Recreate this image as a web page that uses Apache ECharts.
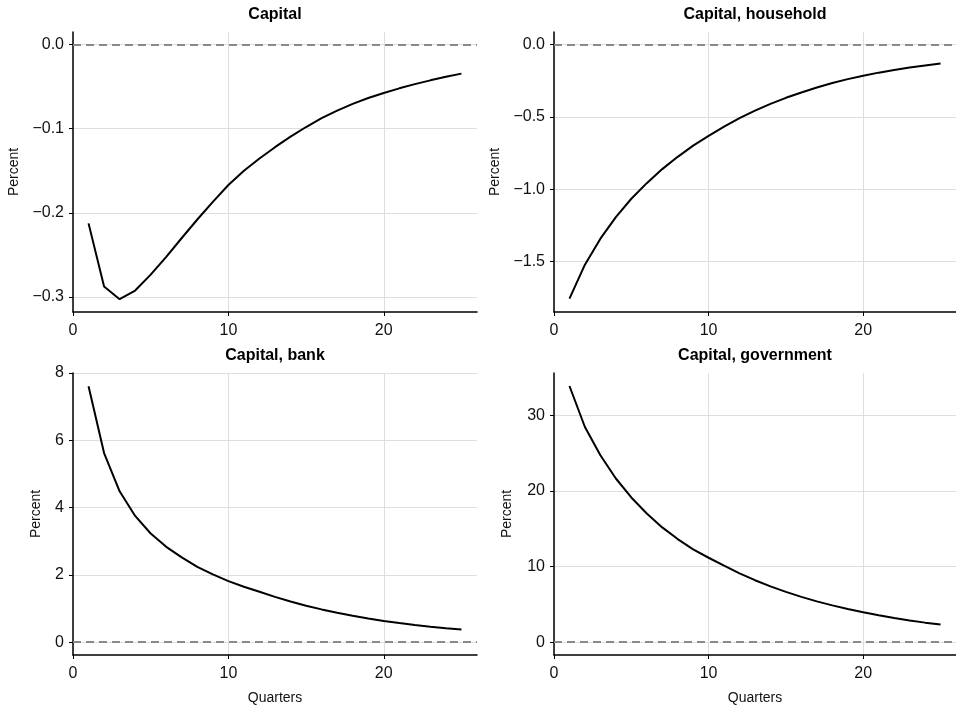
<!DOCTYPE html>
<html>
<head>
<meta charset="utf-8">
<script src="https://cdn.jsdelivr.net/npm/echarts@6/dist/echarts.min.js"></script>
<style>
  html, body { margin: 0; padding: 0; background: #fff; }
  #chart { width: 956px; height: 711px; }
</style>
</head>
<body>
<div id="chart"></div>
<script>
// Impulse responses, quarters 1..25 (percent deviation)
const quarters = [1, 2, 3, 4, 5, 6, 7, 8, 9, 10, 11, 12, 13, 14, 15, 16, 17, 18, 19, 20, 21, 22, 23, 24, 25];

const capital = [-0.2126, -0.2877, -0.3028, -0.2925, -0.2735, -0.2525, -0.230, -0.208, -0.187, -0.167,
  -0.150, -0.1355, -0.122, -0.1095, -0.098, -0.0875, -0.0785, -0.0705, -0.0635, -0.0575,
  -0.052, -0.047, -0.0425, -0.0383, -0.0345];

const capitalHousehold = [-1.755, -1.521, -1.341, -1.192, -1.065, -0.957, -0.860, -0.775, -0.698, -0.630,
  -0.566, -0.508, -0.456, -0.409, -0.367, -0.330, -0.296, -0.265, -0.238, -0.214,
  -0.193, -0.175, -0.158, -0.143, -0.129];

const capitalBank = [7.605, 5.62, 4.484, 3.753, 3.23, 2.835, 2.52, 2.24, 2.015, 1.817,
  1.65, 1.50, 1.347, 1.209, 1.086, 0.975, 0.875, 0.786, 0.705, 0.633,
  0.570, 0.513, 0.462, 0.416, 0.375];

const capitalGovernment = [33.88, 28.46, 24.72, 21.65, 19.14, 17.03, 15.18, 13.64, 12.27, 11.17,
  10.12, 9.1, 8.2, 7.39, 6.66, 6.0, 5.4, 4.87, 4.39, 3.96,
  3.56, 3.2, 2.88, 2.59, 2.33];

const panelTitles = ['Capital', 'Capital, household', 'Capital, bank', 'Capital, government'];
const xTicks = [0, 10, 20];
const yTicks = [
  [-0.3, -0.2, -0.1, 0.0],
  [-1.5, -1.0, -0.5, 0.0],
  [0, 2, 4, 6, 8],
  [0, 10, 20, 30]
];
const yRanges = [[-0.318, 0.015], [-1.848, 0.088], [-0.38, 8.0], [-1.69, 35.6]];
const yDecimals = [1, 1, 0, 0];
const xAxisName = 'Quarters';
const yAxisName = 'Percent';

const FONT = '"Liberation Sans", Arial, Helvetica, sans-serif';
const seriesValues = [capital, capitalHousehold, capitalBank, capitalGovernment];

// panel boxes in pixels
const grids = [
  { left: 73, top: 32, width: 404, height: 280 },
  { left: 554, top: 32, width: 402, height: 280 },
  { left: 73, top: 373, width: 404, height: 282 },
  { left: 554, top: 373, width: 402, height: 282 }
];
const nameGaps = [52, 52, 30, 40];
const titleTops = [7, 7, 348, 348];

function fmtY(dec) {
  return function (v) {
    const s = Math.abs(v).toFixed(dec);
    return (v < -1e-9 ? '\u2212' : '') + s;
  };
}

const option = {
  backgroundColor: '#fff',
  animation: false,
  title: panelTitles.map((t, i) => ({
    text: t,
    left: grids[i].left + grids[i].width / 2,
    top: titleTops[i],
    textAlign: 'center',
    padding: 0,
    textStyle: { fontFamily: FONT, fontSize: 16, fontWeight: 'bold', color: '#000' }
  })),
  grid: grids.map(g => Object.assign({ containLabel: false }, g)),
  xAxis: grids.map((g, i) => ({
    type: 'value',
    gridIndex: i,
    min: 0,
    max: 26,
    name: i >= 2 ? xAxisName : '',
    nameLocation: 'middle',
    nameGap: 36,
    nameTextStyle: { fontFamily: FONT, fontSize: 14, color: '#111' },
    axisLine: { show: true, onZero: false, lineStyle: { color: '#000', width: 1.5 } },
    axisTick: { show: true, length: 4, inside: false, customValues: xTicks, lineStyle: { color: '#000', width: 1 } },
    axisLabel: { customValues: xTicks, margin: 11, fontFamily: FONT, fontSize: 16, color: '#111' },
    splitLine: { show: true, lineStyle: { color: '#dedede', width: 1 } }
  })),
  yAxis: grids.map((g, i) => ({
    type: 'value',
    gridIndex: i,
    min: yRanges[i][0],
    max: yRanges[i][1],
    name: yAxisName,
    nameLocation: 'middle',
    nameGap: nameGaps[i],
    nameTextStyle: { fontFamily: FONT, fontSize: 14, color: '#111' },
    axisLine: { show: true, onZero: false, lineStyle: { color: '#000', width: 1.5 } },
    axisTick: { show: true, length: 4, inside: false, customValues: yTicks[i], lineStyle: { color: '#000', width: 1 } },
    axisLabel: { customValues: yTicks[i], margin: 9, fontFamily: FONT, fontSize: 16, color: '#111', formatter: fmtY(yDecimals[i]) },
    splitLine: { show: true, lineStyle: { color: '#dedede', width: 1 } }
  })),
  series: seriesValues.map((vals, i) => ({
    type: 'line',
    xAxisIndex: i,
    yAxisIndex: i,
    data: quarters.map((q, k) => [q, vals[k]]),
    showSymbol: false,
    symbol: 'none',
    lineStyle: { color: '#000', width: 2 },
    z: 3,
    markLine: {
      silent: true,
      symbol: 'none',
      label: { show: false },
      lineStyle: { color: '#8a8a8a', width: 2, type: [8, 5] },
      data: [{ yAxis: 0 }]
    }
  }))
};

const chart = echarts.init(document.getElementById('chart'), null, { renderer: 'canvas' });
chart.setOption(option);
</script>
</body>
</html>
